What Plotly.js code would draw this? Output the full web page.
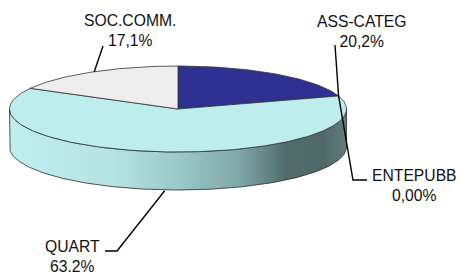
<!DOCTYPE html>
<html>
<head>
<meta charset="utf-8">
<script src="https://cdn.plot.ly/plotly-3.0.1.min.js"></script>
<style>
html,body{margin:0;padding:0;background:#fff;}
#chart{width:460px;height:277px;}
</style>
</head>
<body>
<div id="chart"></div>
<script>
// ---- data ----
const categories = ['ASS-CATEG', 'ENTEPUBB', 'QUART', 'SOC.COMM.'];
const values = [20.2, 0.0, 63.2, 17.1];
const pctLabels = ['20,2%', '0,00%', '63.2%', '17,1%'];
const sliceColors = ['#2E3092', '#2E3092', '#BDEDED', '#EEEEEE'];

// ---- geometry (layout, in pixel-like axis units) ----
const cx = 178, cy = 109, rx = 168.5, ry = 43, depth = 38;
const total = values.reduce((a, b) => a + b, 0);
function pt(deg, dy) {
  const t = deg * Math.PI / 180;
  return [cx + rx * Math.sin(t), cy - ry * Math.cos(t) + (dy || 0)];
}
function arc(a0, a1, dy) {
  const xs = [], ys = [];
  const n = Math.max(2, Math.ceil(Math.abs(a1 - a0)));
  for (let i = 0; i <= n; i++) {
    const p = pt(a0 + (a1 - a0) * i / n, dy);
    xs.push(p[0]); ys.push(p[1]);
  }
  return [xs, ys];
}

const traces = [];
const starts = [], ends = [];
let acc = 0;
values.forEach((v, i) => {
  starts.push(acc / total * 360);
  acc += v;
  ends.push(acc / total * 360);
});

// side walls (front half, 90..270 deg)
values.forEach((v, i) => {
  const lo = Math.max(starts[i], 90), hi = Math.min(ends[i], 270);
  if (v <= 0 || hi <= lo) return;
  const top = arc(lo, hi, 0), bot = arc(hi, lo, depth);
  traces.push({
    type: 'scatter', mode: 'lines', hoverinfo: 'skip',
    x: top[0].concat(bot[0], [top[0][0]]),
    y: top[1].concat(bot[1], [top[1][0]]),
    fill: 'toself',
    fillgradient: {
      type: 'horizontal', start: cx - rx, stop: cx + rx,
      colorscale: [[0, '#C0EEEE'], [0.3, '#B6E3E3'], [0.5, '#9CC8C8'],
                   [0.68, '#7FA8A8'], [0.82, '#526C6C'], [0.93, '#4F6868'], [1, '#627C7C']]
    },
    line: {color: '#2a2a2a', width: 0.8}
  });
});

// top faces
values.forEach((v, i) => {
  if (v <= 0) return;
  const a = arc(starts[i], ends[i], 0);
  traces.push({
    type: 'scatter', mode: 'lines', hoverinfo: 'skip', name: categories[i],
    x: [cx].concat(a[0], [cx]),
    y: [cy].concat(a[1], [cy]),
    fill: 'toself', fillcolor: sliceColors[i],
    line: {color: '#333333', width: 0.8}
  });
});

// label positions (layout)
const labelPos = [
  {x: 362, y: 31},
  {x: 414, y: 185},
  {x: 72, y: 256},
  {x: 130, y: 30.5}
];
const annotations = categories.map((c, i) => ({
  x: labelPos[i].x, y: labelPos[i].y, xref: 'x', yref: 'y',
  text: c + '<br>' + pctLabels[i], showarrow: false,
  xanchor: 'center', yanchor: 'middle', align: 'center',
  font: {family: 'Liberation Sans, Arial, sans-serif', size: 15.7, color: '#111'}
}));

// leader lines: anchored on slice geometry computed from data
const bound = pt(ends[0], 0);                         // ASS-CATEG / ENTEPUBB edge
const socMid = pt((starts[3] + ends[3]) / 2, 0);      // SOC.COMM. top edge
const quartMid = pt((starts[2] + ends[2]) / 2, depth); // QUART bottom edge
const lc = {color: '#000', width: 1.4};
const shapes = [
  {type: 'path', xref: 'x', yref: 'y', line: lc,
   path: `M 335 45 L ${bound[0]} ${bound[1]}`},
  {type: 'path', xref: 'x', yref: 'y', line: lc,
   path: `M 367 180 L 353 180 L ${bound[0]} ${bound[1]}`},
  {type: 'path', xref: 'x', yref: 'y', line: lc,
   path: `M 103 46 L ${socMid[0] + 2} ${socMid[1]}`},
  {type: 'path', xref: 'x', yref: 'y', line: lc,
   path: `M 105 251 L 117 251 L ${quartMid[0] + 3} ${quartMid[1] + 1}`}
];

const layout = {
  width: 460, height: 277,
  margin: {l: 0, r: 0, t: 0, b: 0},
  paper_bgcolor: '#fff', plot_bgcolor: '#fff',
  showlegend: false,
  xaxis: {range: [0, 460], visible: false, fixedrange: true},
  yaxis: {range: [277, 0], visible: false, fixedrange: true},
  annotations: annotations,
  shapes: shapes
};
Plotly.newPlot('chart', traces, layout, {displayModeBar: false, staticPlot: true});
</script>
</body>
</html>
